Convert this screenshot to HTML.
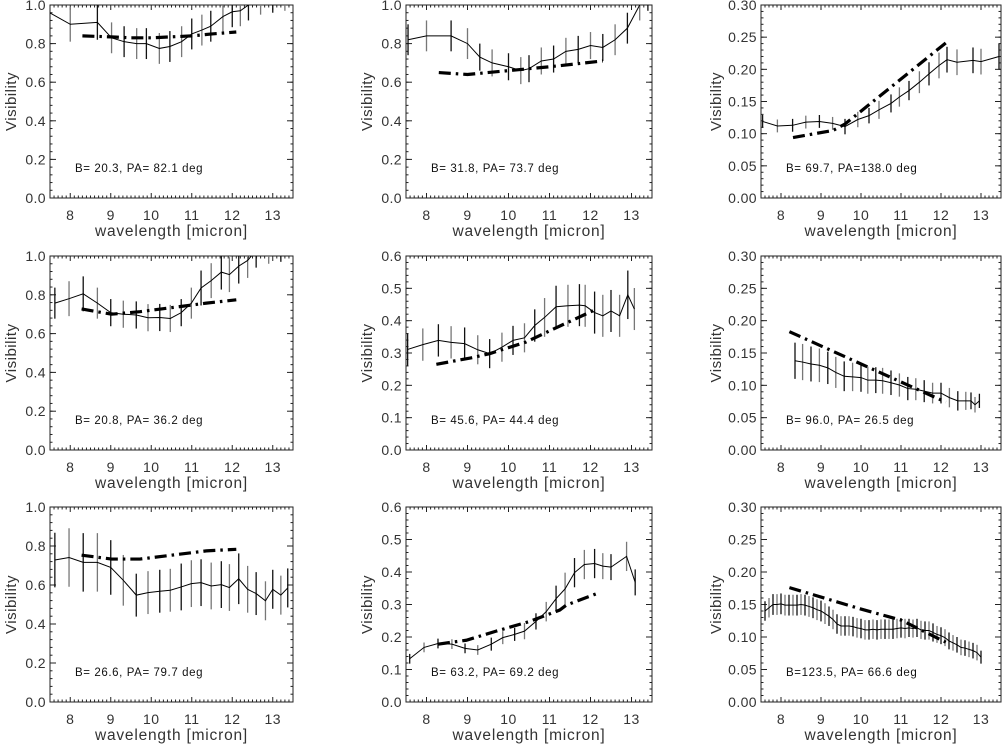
<!DOCTYPE html>
<html><head><meta charset="utf-8"><style>
html,body{margin:0;padding:0;background:#fff;}
svg{display:block;font-family:"Liberation Sans",sans-serif;}
</style></head><body>
<svg id="fig" width="1002" height="748" viewBox="0 0 1002 748" xmlns="http://www.w3.org/2000/svg"></svg>
<script>
// ---- data (wavelength in micron, visibility) ----
const p1Wave=[7.49,8.0,8.67,9.02,9.33,9.64,9.88,10.2,10.46,10.75,11.0,11.25,11.47,11.77,12.0,12.2,12.4,12.7,13.0,13.3];
const p1Vis=[0.96,0.90,0.91,0.83,0.81,0.80,0.80,0.775,0.785,0.81,0.85,0.87,0.89,0.94,0.965,0.97,1.0,1.03,1.04,1.05];
const p1Err=[0.09,0.09,0.09,0.08,0.08,0.08,0.08,0.08,0.08,0.08,0.08,0.08,0.08,0.08,0.08,0.08,0.08,0.08,0.08,0.08];
const p1ModelWave=[8.3,9.0,9.5,10.0,10.5,11.0,11.5,12.1];
const p1ModelVis=[0.84,0.835,0.83,0.83,0.835,0.84,0.85,0.86];
const p1Label="B= 20.3, PA= 82.1 deg";

const p2Wave=[7.55,8.0,8.6,9.0,9.3,9.6,10.0,10.3,10.5,10.8,11.1,11.4,11.7,12.0,12.3,12.6,12.9,13.2,13.4];
const p2Vis=[0.82,0.84,0.84,0.80,0.73,0.70,0.68,0.66,0.67,0.71,0.72,0.76,0.77,0.79,0.78,0.82,0.88,1.0,1.05];
const p2Err=[0.08,0.08,0.08,0.08,0.07,0.07,0.07,0.07,0.07,0.07,0.07,0.07,0.07,0.07,0.07,0.08,0.08,0.08,0.08];
const p2ModelWave=[8.3,9.0,10.0,11.0,12.3];
const p2ModelVis=[0.65,0.64,0.66,0.68,0.71];
const p2Label="B= 31.8, PA= 73.7 deg";

const p3Wave=[7.54,7.91,8.29,8.62,8.96,9.29,9.6,9.92,10.2,10.45,10.75,10.96,11.2,11.46,11.7,11.95,12.15,12.4,12.8,13.0,13.45];
const p3Vis=[0.119,0.112,0.113,0.118,0.119,0.116,0.111,0.122,0.128,0.137,0.147,0.157,0.167,0.180,0.193,0.206,0.215,0.211,0.214,0.212,0.22];
const p3Err=[0.01,0.01,0.01,0.01,0.01,0.01,0.012,0.012,0.012,0.014,0.014,0.015,0.015,0.017,0.018,0.02,0.02,0.02,0.02,0.02,0.02];
const p3ModelWave=[8.3,9.3,9.6,12.2];
const p3ModelVis=[0.094,0.105,0.115,0.245];
const p3Label="B= 69.7, PA=138.0 deg";

const p4Wave=[7.62,7.97,8.32,8.67,9.0,9.31,9.63,9.92,10.21,10.47,10.74,10.99,11.23,11.48,11.73,11.93,12.16,12.38,12.59,12.9,13.2];
const p4Vis=[0.757,0.78,0.805,0.757,0.708,0.70,0.696,0.682,0.683,0.678,0.708,0.757,0.835,0.873,0.917,0.904,0.948,0.977,1.03,1.05,1.06];
const p4Err=[0.08,0.09,0.09,0.08,0.07,0.07,0.07,0.07,0.07,0.07,0.07,0.08,0.09,0.09,0.09,0.09,0.09,0.09,0.09,0.09,0.09];
const p4ModelWave=[8.28,9.02,9.72,10.7,11.36,12.1];
const p4ModelVis=[0.727,0.70,0.713,0.739,0.757,0.774];
const p4Label="B= 20.8, PA= 36.2 deg";

const p5Wave=[7.54,7.91,8.29,8.6,8.93,9.25,9.54,9.84,10.11,10.39,10.64,10.88,11.16,11.45,11.73,11.87,12.1,12.3,12.5,12.71,12.91,13.07];
const p5Vis=[0.311,0.326,0.339,0.333,0.329,0.31,0.298,0.318,0.339,0.347,0.385,0.41,0.443,0.446,0.448,0.446,0.425,0.415,0.43,0.415,0.48,0.436];
const p5Err=[0.05,0.05,0.05,0.05,0.05,0.045,0.045,0.045,0.045,0.045,0.05,0.06,0.065,0.065,0.065,0.065,0.065,0.065,0.065,0.065,0.075,0.065];
const p5ModelWave=[8.24,9.13,9.54,10.43,11.16,12.1];
const p5ModelVis=[0.265,0.286,0.298,0.334,0.378,0.433];
const p5Label="B= 45.6, PA= 44.4 deg";

const p6Wave=[8.35,8.54,8.75,8.96,9.17,9.37,9.58,9.79,10.0,10.17,10.37,10.54,10.75,10.96,11.17,11.37,11.58,11.79,12.0,12.21,12.42,12.62,12.75,12.85,12.96];
const p6Vis=[0.138,0.136,0.133,0.131,0.127,0.120,0.114,0.113,0.112,0.108,0.108,0.107,0.104,0.1005,0.095,0.094,0.091,0.088,0.088,0.081,0.076,0.076,0.076,0.070,0.076];
const p6Err=[0.028,0.028,0.027,0.026,0.025,0.024,0.023,0.022,0.022,0.021,0.02,0.02,0.019,0.018,0.018,0.017,0.017,0.016,0.016,0.015,0.015,0.014,0.013,0.012,0.011];
const p6ModelWave=[8.21,12.12];
const p6ModelVis=[0.183,0.074];
const p6Label="B= 96.0, PA= 26.5 deg";

const p7Wave=[7.62,7.97,8.32,8.67,9.0,9.31,9.63,9.92,10.21,10.47,10.74,10.99,11.23,11.48,11.73,11.93,12.16,12.38,12.59,12.82,13.0,13.2,13.37];
const p7Vis=[0.728,0.741,0.716,0.716,0.69,0.624,0.548,0.561,0.568,0.573,0.59,0.607,0.612,0.595,0.602,0.587,0.632,0.578,0.556,0.519,0.578,0.548,0.585];
const p7Err=[0.14,0.15,0.15,0.15,0.14,0.13,0.11,0.11,0.11,0.11,0.12,0.12,0.12,0.12,0.12,0.12,0.13,0.12,0.11,0.1,0.1,0.1,0.1];
const p7ModelWave=[8.28,9.02,9.72,10.7,11.36,12.1];
const p7ModelVis=[0.753,0.733,0.733,0.758,0.775,0.783];
const p7Label="B= 26.6, PA= 79.7 deg";

const p8Wave=[7.59,7.94,8.28,8.62,8.94,9.25,9.58,9.86,10.15,10.39,10.67,10.92,11.16,11.38,11.61,11.85,12.1,12.3,12.5,12.88,13.09];
const p8Vis=[0.133,0.168,0.18,0.178,0.165,0.16,0.178,0.198,0.208,0.218,0.248,0.278,0.318,0.348,0.398,0.423,0.426,0.418,0.415,0.448,0.368];
const p8Err=[0.015,0.015,0.015,0.015,0.015,0.015,0.02,0.02,0.02,0.025,0.025,0.03,0.04,0.05,0.045,0.045,0.045,0.04,0.04,0.045,0.04];
const p8ModelWave=[8.28,8.97,9.7,10.52,11.25,11.41,12.18];
const p8ModelVis=[0.178,0.19,0.218,0.248,0.283,0.298,0.335];
const p8Label="B= 63.2, PA= 69.2 deg";

const p9Wave=[7.6,7.7,7.8,7.9,8.0,8.1,8.2,8.3,8.4,8.5,8.6,8.7,8.8,8.9,9.0,9.1,9.2,9.3,9.4,9.5,9.6,9.7,9.8,9.9,10.0,10.1,10.2,10.3,10.4,10.5,10.6,10.7,10.8,10.9,11.0,11.1,11.2,11.3,11.4,11.5,11.6,11.7,11.8,11.9,12.0,12.1,12.2,12.3,12.4,12.5,12.6,12.7,12.8,12.9,13.0];
const p9Vis=[0.140,0.145,0.150,0.150,0.151,0.149,0.149,0.149,0.149,0.150,0.149,0.147,0.145,0.142,0.140,0.136,0.132,0.127,0.120,0.117,0.117,0.117,0.116,0.114,0.113,0.111,0.111,0.112,0.111,0.112,0.112,0.112,0.112,0.113,0.114,0.113,0.114,0.113,0.114,0.111,0.110,0.110,0.107,0.104,0.102,0.099,0.094,0.091,0.088,0.084,0.083,0.081,0.079,0.076,0.069];
const p9Err=[0.015,0.015,0.016,0.016,0.016,0.016,0.016,0.016,0.016,0.016,0.016,0.016,0.016,0.016,0.016,0.016,0.015,0.015,0.015,0.015,0.015,0.015,0.015,0.015,0.015,0.015,0.015,0.015,0.015,0.015,0.015,0.015,0.015,0.015,0.015,0.015,0.014,0.014,0.014,0.014,0.014,0.014,0.014,0.013,0.013,0.013,0.013,0.012,0.012,0.012,0.012,0.012,0.012,0.012,0.01];
const p9ModelWave=[8.21,10.0,11.0,12.12];
const p9ModelVis=[0.176,0.143,0.126,0.092];
const p9Label="B=123.5, PA= 66.6 deg";

const yTicksA=["0.0","0.2","0.4","0.6","0.8","1.0"];
const yTicksB=["0.0","0.1","0.2","0.3","0.4","0.5","0.6"];
const yTicksC=["0.00","0.05","0.10","0.15","0.20","0.25","0.30"];
const xTicks=[8,9,10,11,12,13];

const NS="http://www.w3.org/2000/svg";
const svg=document.getElementById('fig');
function mk(tag,parent,attrs){const e=document.createElementNS(NS,tag);for(const k in attrs)e.setAttribute(k,attrs[k]);parent.appendChild(e);return e;}

const cols=[[50,293],[406,652],[761,1001]];
const rows=[[5,198],[256,450],[507,702]];
const panels=[
 {r:0,c:0,w:p1Wave,v:p1Vis,e:p1Err,mw:p1ModelWave,mv:p1ModelVis,lab:p1Label,yt:yTicksA,ymax:1.0,minor:0.04},
 {r:0,c:1,w:p2Wave,v:p2Vis,e:p2Err,mw:p2ModelWave,mv:p2ModelVis,lab:p2Label,yt:yTicksA,ymax:1.0,minor:0.04},
 {r:0,c:2,w:p3Wave,v:p3Vis,e:p3Err,mw:p3ModelWave,mv:p3ModelVis,lab:p3Label,yt:yTicksC,ymax:0.3,minor:0.01},
 {r:1,c:0,w:p4Wave,v:p4Vis,e:p4Err,mw:p4ModelWave,mv:p4ModelVis,lab:p4Label,yt:yTicksA,ymax:1.0,minor:0.04},
 {r:1,c:1,w:p5Wave,v:p5Vis,e:p5Err,mw:p5ModelWave,mv:p5ModelVis,lab:p5Label,yt:yTicksB,ymax:0.6,minor:0.02},
 {r:1,c:2,w:p6Wave,v:p6Vis,e:p6Err,mw:p6ModelWave,mv:p6ModelVis,lab:p6Label,yt:yTicksC,ymax:0.3,minor:0.01},
 {r:2,c:0,w:p7Wave,v:p7Vis,e:p7Err,mw:p7ModelWave,mv:p7ModelVis,lab:p7Label,yt:yTicksA,ymax:1.0,minor:0.04},
 {r:2,c:1,w:p8Wave,v:p8Vis,e:p8Err,mw:p8ModelWave,mv:p8ModelVis,lab:p8Label,yt:yTicksB,ymax:0.6,minor:0.02},
 {r:2,c:2,w:p9Wave,v:p9Vis,e:p9Err,mw:p9ModelWave,mv:p9ModelVis,lab:p9Label,yt:yTicksC,ymax:0.3,minor:0.01}
];
const defs=mk('defs',svg,{});
panels.forEach((p,i)=>{
  const L=cols[p.c][0],R=cols[p.c][1],T=rows[p.r][0],B=rows[p.r][1];
  const xs=w=>L+(w-7.5)/(6.0)*(R-L);
  const ys=v=>B-v/p.ymax*(B-T);
  const g=mk('g',svg,{});
  
  
  const cp=mk('clipPath',defs,{id:'clip'+i});
  mk('rect',cp,{x:L,y:T,width:R-L,height:B-T});
  const fr=mk('rect',g,{x:L,y:T,width:R-L,height:B-T,fill:'none',stroke:'#222','stroke-width':1});
  
  
  for(let k=75;k<=135;k++){const w=k/10;const x=xs(w);const major=(k%10===0);const len=major?5:2.5;
    mk('line',g,{x1:x,y1:B,x2:x,y2:B-len,stroke:'#222','stroke-width':1});
    mk('line',g,{x1:x,y1:T,x2:x,y2:T+len,stroke:'#222','stroke-width':1});}
  xTicks.forEach(t=>{const tx=mk('text',g,{x:xs(t),y:B+22,'font-size':14,'letter-spacing':0.5,'text-anchor':'middle',fill:'#333'});tx.textContent=t;
    
    });
  const nMin=Math.round(p.ymax/p.minor);
  for(let k=0;k<=nMin;k++){const v=k*p.minor;const y=ys(v);
    mk('line',g,{x1:L,y1:y,x2:L+2.5,y2:y,stroke:'#222','stroke-width':1});
    mk('line',g,{x1:R,y1:y,x2:R-2.5,y2:y,stroke:'#222','stroke-width':1});}
  p.yt.forEach(t=>{const v=parseFloat(t);const y=ys(v);
    mk('line',g,{x1:L,y1:y,x2:L+6,y2:y,stroke:'#222','stroke-width':1});
    mk('line',g,{x1:R,y1:y,x2:R-6,y2:y,stroke:'#222','stroke-width':1});
    const tx=mk('text',g,{x:L-4,y:y+5,'font-size':14,'letter-spacing':0.4,'text-anchor':'end',fill:'#333'});tx.textContent=t;
    
    });
  const xt=mk('text',g,{x:(L+R)/2,y:B+38,'font-size':15.5,'letter-spacing':0.8,'text-anchor':'middle',fill:'#333'});xt.textContent='wavelength [micron]';
  
  
  const yx=L-(p.yt[0].length>3?40:34);const yc=(T+B)/2;
  const yt=mk('text',g,{x:yx,y:yc,'font-size':15,'letter-spacing':0.5,'text-anchor':'middle',fill:'#333',transform:`rotate(-90 ${yx} ${yc})`});yt.textContent='Visibility';
  
  
  const an=mk('text',g,{x:L+25,y:B-26,'font-size':11.5,'letter-spacing':0.6,fill:'#111'});an.textContent=p.lab;
  
  
  const dg=mk('g',g,{'clip-path':`url(#clip${i})`});
  p.w.forEach((w,j)=>{const x=xs(w);const eb=mk('line',dg,{x1:x,y1:ys(p.v[j]-p.e[j]),x2:x,y2:ys(p.v[j]+p.e[j]),stroke:(j%2?'#777':'#111'),'stroke-width':1.3});
    
    });
  const ol=mk('polyline',dg,{points:p.w.map((w,j)=>xs(w)+','+ys(p.v[j])).join(' '),fill:'none',stroke:'#000','stroke-width':1});
  
  
  const ml=mk('polyline',dg,{points:p.mw.map((w,j)=>xs(w)+','+ys(p.mv[j])).join(' '),fill:'none',stroke:'#000','stroke-width':3.2,'stroke-dasharray':'12 5 2.5 5'});
  
  
});
</script>
</body></html>
